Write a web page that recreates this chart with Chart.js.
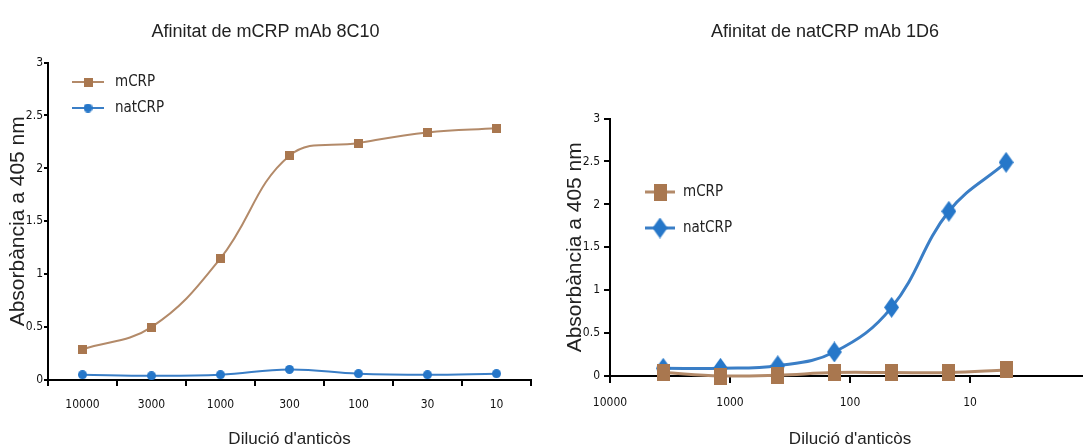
<!DOCTYPE html>
<html><head><meta charset="utf-8">
<script src="https://cdn.jsdelivr.net/npm/chart.js@4/dist/chart.umd.min.js"></script>
<style>
html,body{margin:0;padding:0;background:#fff;overflow:hidden;width:1083px;height:448px;position:relative;}
#c1{position:absolute;left:0;top:0}
#c2{position:absolute;left:560px;top:0}
</style></head><body>
<canvas id="c1" width="545" height="448"></canvas>
<canvas id="c2" width="540" height="448"></canvas>
<script>
// ---- data ----
const leftCategories = ['10000','3000','1000','300','100','30','10'];
const leftMCRP   = [0.29, 0.50, 1.15, 2.12, 2.24, 2.34, 2.38];
const leftNatCRP = [0.05, 0.04, 0.05, 0.10, 0.06, 0.05, 0.06];

const rightDilutions = [3600, 1200, 400, 135, 45, 15, 5];
const rightMCRP   = [0.04, 0.00, 0.01, 0.04, 0.04, 0.04, 0.07];
const rightNatCRP = [0.09, 0.09, 0.12, 0.28, 0.80, 1.92, 2.49];
const rightTicks  = [10000, 1000, 100, 10];

const seriesNames = ['mCRP', 'natCRP'];
const leftTitle  = 'Afinitat de mCRP mAb 8C10';
const rightTitle = 'Afinitat de natCRP mAb 1D6';
const xTitle = "Dilució d'anticòs";
const yTitle = 'Absorbància a 405 nm';

// ---- styles ----
const BROWN = '#A9774F', BROWN_LINE = '#B38A69';
const BLUE = '#2677C9', BLUE_LINE = '#3A7EC6';
const SANS = "'Liberation Sans', Arial, sans-serif";
const NARROW = "'Liberation Sans Narrow', 'DejaVu Sans Condensed', 'Liberation Sans', sans-serif";

function marker(w, h, color, shape) {
  const c = document.createElement('canvas');
  c.width = w; c.height = h;
  const x = c.getContext('2d');
  x.fillStyle = color;
  if (shape === 'rect') x.fillRect(0, 0, w, h);
  else if (shape === 'circle') { x.beginPath(); x.arc(w/2, h/2, w/2, 0, Math.PI*2); x.fill(); }
  else if (shape === 'diamond') { x.beginPath(); x.moveTo(w/2,0); x.lineTo(w,h/2); x.lineTo(w/2,h); x.lineTo(0,h/2); x.closePath(); x.fill(); }
  return c;
}
const mkLeftSq = marker(9, 9, BROWN, 'rect');
const mkLeftCi = marker(9, 9, BLUE, 'circle');
const mkRightRect = marker(13, 17, BROWN, 'rect');
const mkRightDia = marker(15, 21, BLUE, 'diamond');

const legendPlugin = {
  id: 'customLegend',
  afterDraw(chart, args, opts) {
    const ctx = chart.ctx;
    chart.data.datasets.forEach((ds, i) => {
      const y = opts.ys[i];
      ctx.save();
      ctx.strokeStyle = ds.borderColor;
      ctx.lineWidth = ds.borderWidth;
      ctx.beginPath(); ctx.moveTo(opts.x1, y); ctx.lineTo(opts.x2, y); ctx.stroke();
      const img = ds.pointStyle;
      ctx.drawImage(img, (opts.x1 + opts.x2)/2 - img.width/2, y - img.height/2);
      ctx.fillStyle = '#222';
      ctx.font = opts.font;
      ctx.textBaseline = 'middle';
      ctx.fillText(ds.label, opts.tx, y);
      ctx.restore();
    });
  }
};

function axisCommon(tickLen, pad) {
  return {
    grid: { drawOnChartArea: false, drawTicks: true, tickLength: tickLen, color: '#000', lineWidth: 2 },
    border: { color: '#000', width: 2 },
    ticks: { font: { family: NARROW, size: 12 }, color: '#111', padding: pad, maxRotation: 0, autoSkip: false }
  };
}

// ---- left chart ----
const lx = axisCommon(6, 12), ly = axisCommon(4, 1);
new Chart(document.getElementById('c1'), {
  type: 'line',
  data: {
    labels: leftCategories,
    datasets: [
      { label: seriesNames[0], data: leftMCRP, borderColor: BROWN_LINE, borderWidth: 2, pointStyle: mkLeftSq, pointRadius: 5, tension: 0.4, clip: false },
      { label: seriesNames[1], data: leftNatCRP, borderColor: BLUE_LINE, borderWidth: 2, pointStyle: mkLeftCi, pointRadius: 5, tension: 0.4, clip: false }
    ]
  },
  options: {
    responsive: false, animation: false, devicePixelRatio: 1,
    layout: { padding: { left: 0, right: 14, top: 0, bottom: 0 } },
    plugins: {
      legend: { display: false }, tooltip: { enabled: false },
      title: { display: true, text: leftTitle, color: '#222', font: { family: SANS, size: 18, weight: 'normal', lineHeight: 1.2 }, padding: { top: 21, bottom: 20 } },
      customLegend: { x1: 72, x2: 104, ys: [82, 108], tx: 115, font: "15px " + NARROW }
    },
    scales: {
      x: Object.assign(lx, { type: 'category', offset: true,
        grid: Object.assign(lx.grid, { offset: true }),
        title: { display: true, text: xTitle, color: '#222', font: { family: SANS, size: 17, lineHeight: 1 }, padding: 0 },
        afterFit(s) { s.height = 68; } }),
      y: Object.assign(ly, { min: 0, max: 3,
        ticks: Object.assign(ly.ticks, { stepSize: 0.5, callback: v => String(v) }),
        title: { display: true, text: yTitle, color: '#222', font: { family: SANS, size: 21, lineHeight: 1 }, padding: { top: 8, bottom: 0 } },
        afterFit(s) { s.width = 48; } })
    }
  },
  plugins: [legendPlugin]
});

// ---- right chart ----
const rx = axisCommon(7, 13), ry = axisCommon(6, 4);
new Chart(document.getElementById('c2'), {
  type: 'line',
  data: {
    datasets: [
      { label: seriesNames[0], data: rightDilutions.map((d, i) => ({ x: d, y: rightMCRP[i] })), borderColor: BROWN_LINE, borderWidth: 3, pointStyle: mkRightRect, pointRadius: 6, tension: 0.4, clip: false },
      { label: seriesNames[1], data: rightDilutions.map((d, i) => ({ x: d, y: rightNatCRP[i] })), borderColor: BLUE_LINE, borderWidth: 3, pointStyle: mkRightDia, pointRadius: 6, tension: 0.4, clip: false }
    ]
  },
  options: {
    responsive: false, animation: false, devicePixelRatio: 1,
    layout: { padding: { left: 0, right: 10, top: 0, bottom: 0 } },
    plugins: {
      legend: { display: false }, tooltip: { enabled: false },
      title: { display: true, text: rightTitle, color: '#222', font: { family: SANS, size: 18, weight: 'normal', lineHeight: 1.2 }, padding: { top: 21, bottom: 76 } },
      customLegend: { x1: 85, x2: 115, ys: [192, 228], tx: 123, font: "15px " + NARROW }
    },
    scales: {
      x: Object.assign(rx, { type: 'logarithmic', reverse: true, min: 1, max: 10000,
        afterBuildTicks(s) { s.ticks = rightTicks.map(v => ({ value: v })); },
        ticks: Object.assign(rx.ticks, { callback: v => String(v) }),
        title: { display: true, text: xTitle, color: '#222', font: { family: SANS, size: 17, lineHeight: 1 }, padding: 0 },
        afterFit(s) { s.height = 72; } }),
      y: Object.assign(ry, { min: 0, max: 3,
        ticks: Object.assign(ry.ticks, { stepSize: 0.5, callback: v => String(v) }),
        title: { display: true, text: yTitle, color: '#222', font: { family: SANS, size: 21, lineHeight: 1 }, padding: { top: 5, bottom: 0 } },
        afterFit(s) { s.width = 50; } })
    }
  },
  plugins: [legendPlugin]
});
</script>
</body></html>
